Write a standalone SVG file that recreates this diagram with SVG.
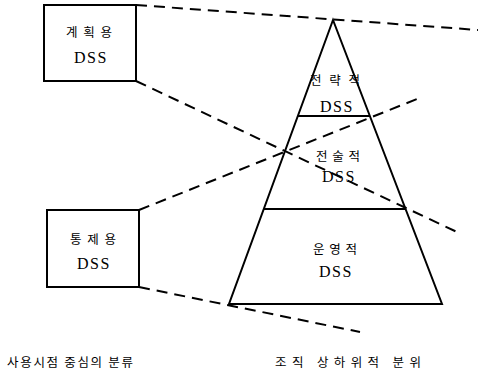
<svg xmlns="http://www.w3.org/2000/svg" width="479" height="373" viewBox="0 0 479 373">
<style>
.box{fill:#fff;stroke:#000;stroke-width:2}
.solid{fill:none;stroke:#000;stroke-width:2;stroke-linejoin:miter}
.dash{fill:none;stroke:#000;stroke-width:2;stroke-dasharray:11 7}
.ko{font-family:"Noto Sans CJK KR","Noto Sans",sans-serif;font-size:12.5px;fill:#000;text-anchor:middle}
.en{font-family:"Liberation Serif","Times New Roman",serif;font-size:16px;fill:#000;text-anchor:middle;letter-spacing:1.5px}
</style>
<rect width="479" height="373" fill="#fff"/>
<g id="connectors">
<line class="dash" x1="136" y1="5" x2="478" y2="30"/>
<line class="dash" x1="136" y1="81" x2="457" y2="232"/>
<line class="dash" x1="139" y1="210" x2="422" y2="97"/>
<line class="dash" x1="139" y1="287" x2="360" y2="332"/>
</g>
<g id="pyramid">
<polygon class="solid" points="333,20 229,304 442,304"/>
<line class="solid" x1="298" y1="116" x2="370" y2="116"/>
<line class="solid" x1="264" y1="209" x2="406" y2="209"/>
</g>
<g id="planning">
<rect class="box" x="44" y="5" width="92" height="76"/>
<text class="ko" x="89" y="37" textLength="46">계획용</text>
<text class="en" x="91" y="63">DSS</text>
</g>
<g id="control">
<rect class="box" x="47" y="210" width="92" height="77"/>
<text class="ko" x="93" y="244" textLength="46">통제용</text>
<text class="en" x="94" y="269">DSS</text>
</g>
<g id="strategic">
<text class="ko" x="335" y="85" textLength="50">전략적</text>
<text class="en" x="337" y="112">DSS</text>
</g>
<g id="tactical">
<text class="ko" x="338" y="161" textLength="44">전술적</text>
<text class="en" x="339" y="182">DSS</text>
</g>
<g id="operational">
<text class="ko" x="335" y="254" textLength="44">운영적</text>
<text class="en" x="336" y="277">DSS</text>
</g>
<g id="labels">
<text class="ko" x="70" y="367" textLength="126">사용시점 중심의 분류</text>
<text class="ko" x="348" y="367" textLength="146">조직 상하위적 분위</text>
</g>
</svg>
